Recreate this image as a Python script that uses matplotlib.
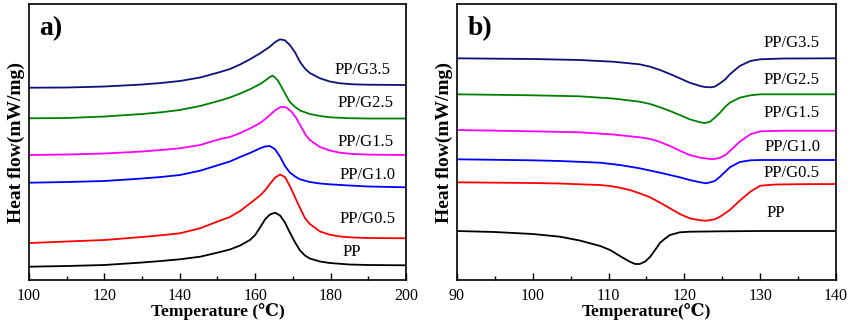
import numpy as np
import matplotlib
matplotlib.use("Agg")
from matplotlib import pyplot as plt
from matplotlib.ticker import MultipleLocator

plt.rcParams['font.family'] = ['Liberation Serif', 'DejaVu Serif']

# curve readings: heat flow in arbitrary units, measured downward from the top of the frame
# (the original has no y scale, so each trace keeps its vertical offset)
labels = ['PP', 'PP/G0.5', 'PP/G1.0', 'PP/G1.5', 'PP/G2.5', 'PP/G3.5']
colors = ['#000000', '#ff0000', '#0000ff', '#ff00ff', '#008000', '#10107a']

# --- a) melting ---
t_pp_a = [100, 110, 120, 130, 135, 140, 145.4, 150.7, 153.3, 156, 158.6, 160, 161.3, 162.6, 163.9, 165.3,
          166.6, 167.9, 169.2, 170.6, 171.9, 173.2, 174.5, 177.2, 179.8, 185, 190, 200]
y_pp_a = [266.7, 266, 265, 262.5, 261, 259.3, 256.7, 252, 249.5, 245.5, 240, 235, 227.5, 219.5, 214.5, 212.7,
          215.5, 222.5, 232.5, 242.5, 250.5, 255.5, 258.5, 261.5, 263, 264.5, 265, 265.3]

t_g05_a = [100, 110, 120, 130, 135, 140, 145.4, 150.7, 153.3, 156, 158.6, 161.3, 162.6, 163.9, 165.3, 166.6,
           167.9, 169.2, 170.6, 171.9, 173.2, 174.5, 177.2, 179.8, 182.5, 186, 190, 200]
y_g05_a = [243, 241.5, 240, 237, 235.3, 233.3, 228.3, 220.5, 217, 211, 203.5, 195.5, 190.5, 184, 177.5, 174.5,
           177, 186, 197.5, 208, 218, 224, 231.5, 234.7, 236.5, 237.5, 238, 238.3]

t_g10_a = [100, 110, 120, 130, 135, 140, 145.4, 150.7, 153.3, 156, 158.6, 161.3, 162.6, 163.9, 165.3, 166.6,
           167.9, 169.2, 170.6, 171.9, 174.5, 177.2, 179.8, 185, 190, 200]
y_g10_a = [182.7, 182, 181, 178.5, 177, 175, 170.7, 164.5, 161.5, 157, 153, 148.3, 146.5, 146, 149.3, 156.7,
           166, 172.5, 176.5, 179.3, 182, 183.5, 184.3, 185.5, 186.5, 187.3]

t_g15_a = [100, 110, 120, 130, 135, 140, 145.4, 150.7, 153.3, 156, 158.6, 161.3, 162.6, 163.9, 165.3, 166.6,
           167.3, 168.4, 169.6, 170.9, 172.2, 173.5, 174.5, 176, 177.2, 179.8, 182.5, 186, 190, 200]
y_g15_a = [155, 154.5, 153.5, 151.5, 150, 148.3, 145, 139, 137, 133, 128.5, 123, 119.3, 115, 110.3, 107.3,
           106.7, 107.8, 111.5, 118, 127, 135.5, 140, 144, 147, 150.5, 152.7, 154, 154.6, 155]

t_g25_a = [100, 110, 120, 130, 135, 140, 145.4, 150.7, 153.3, 156, 158.6, 161.3, 162.6, 163.9, 164.6, 165.3,
           166.1, 167, 167.9, 168.6, 169.2, 170.6, 171.9, 174.5, 177.2, 179.8, 185, 190, 200]
y_g25_a = [118.3, 118, 116.5, 114, 112.3, 110, 106, 100.5, 97.5, 93.5, 89.3, 84, 80.7, 77, 75.7, 77.5,
           81, 87, 93.3, 98, 102, 107, 110.5, 114, 116, 117.3, 118.2, 118.5, 118.5]

t_g35_a = [100, 110, 120, 130, 135, 140, 145.4, 150.7, 153.3, 156, 158.6, 161.3, 162.6, 163.9, 165.3, 166.6,
           167.9, 169.2, 170.6, 171.9, 173.2, 174.5, 177.2, 179.8, 182.5, 186, 190, 200]
y_g35_a = [87.7, 87.5, 86.5, 84.5, 83, 81, 77.5, 72, 69, 64.5, 59.3, 53.3, 50, 46.7, 42, 39.3,
           40.3, 45, 52.5, 62, 68.5, 73, 78.3, 81.5, 83.3, 84.3, 84.7, 85]

# --- b) crystallization ---
t_pp_b = [90, 95, 100, 103.6, 106.2, 108.9, 110.2, 111.5, 112.8, 113.5, 114.1, 114.8, 115.5, 116.2, 116.8,
          117.5, 118.1, 119.4, 120.7, 125, 130, 140]
y_pp_b = [231, 232, 234, 236.7, 240.5, 246, 250, 256, 261.7, 264, 264, 261.7, 256.7, 249.3, 242.7,
          238.3, 235, 232.3, 231.7, 231.3, 231, 231]

t_g05_b = [90, 100, 103.6, 106.2, 108.9, 110.2, 111.5, 112.8, 114.1, 115.5, 116.8, 118.1, 119.4, 120.7, 122.1,
           122.9, 124, 124.7, 126, 127.3, 128.7, 130, 132, 135, 140]
y_g05_b = [182.3, 183, 183.5, 184.3, 185, 186, 187.7, 190, 193.3, 197.3, 202.7, 208.3, 214, 218.3, 220.3,
           220.7, 219.3, 216.7, 210, 200.7, 191.7, 185.7, 184.5, 184.2, 184]

t_g10_b = [90, 100, 103.6, 108.9, 111.5, 114.1, 116.8, 119.4, 120.7, 122.1, 122.9, 124, 124.7, 126, 127.3,
           128.7, 130, 140]
y_g10_b = [159.3, 160.3, 161, 162.7, 165, 168.3, 172.7, 177.3, 180, 182.3, 183.3, 181, 176.7, 167.3, 162,
           160.3, 160, 160]

t_g15_b = [90, 100, 106.2, 110.6, 114.1, 115.5, 116.8, 118.1, 119.4, 120.7, 122.1, 123.4, 124, 124.7, 125.4,
           126, 127.3, 128.7, 130, 133, 140]
y_g15_b = [130, 131.3, 132.3, 134.5, 137.3, 139, 142, 146, 150.7, 155, 157.7, 159, 159, 157.7, 155,
           151, 141.7, 134.3, 131.3, 130.7, 130.7]

t_g25_b = [90, 100, 106.2, 110.6, 114.1, 115.5, 116.8, 118.1, 119.4, 120.7, 122.1, 122.7, 123.4, 124, 124.7,
           125.4, 126, 127.3, 128.7, 130, 140]
y_g25_b = [94.3, 95.3, 96.3, 98.5, 101.7, 104, 107.3, 111, 115, 119.3, 122.3, 123, 121.7, 117.7, 112.7,
           106.7, 102.7, 97.7, 95.3, 94.3, 94.3]

t_g35_b = [90, 100, 106.2, 110.6, 114.1, 115.5, 116.8, 118.1, 119.4, 120.7, 122.1, 122.7, 123.4, 124, 124.7,
           125.4, 126, 127.3, 128.7, 130, 133, 140]
y_g35_b = [58.3, 59, 60, 61.7, 64.3, 66.7, 70, 74, 78.3, 82.7, 86, 87, 87.3, 86.7, 83.3,
           79.3, 74.3, 66, 61, 59.3, 58.5, 58.3]

series_a = [(t_pp_a, y_pp_a), (t_g05_a, y_g05_a), (t_g10_a, y_g10_a),
            (t_g15_a, y_g15_a), (t_g25_a, y_g25_a), (t_g35_a, y_g35_a)]
series_b = [(t_pp_b, y_pp_b), (t_g05_b, y_g05_b), (t_g10_b, y_g10_b),
            (t_g15_b, y_g15_b), (t_g25_b, y_g25_b), (t_g35_b, y_g35_b)]

# label positions (T, reading)
label_pos_a = [(185.7, 252), (189.8, 219), (189.7, 175), (189.3, 142), (189.3, 103), (188.6, 70)]
label_pos_b = [(132.0, 213), (134.2, 173), (134.3, 147), (134.2, 113), (134.2, 80), (134.2, 43)]

TOP = 280.0


def flow(v):
    return TOP - np.asarray(v, dtype=float)


fig = plt.figure(figsize=(8.5, 3.21), dpi=100)
ax1 = fig.add_axes([0.0341, 0.1277, 0.4435, 0.8598])
ax2 = fig.add_axes([0.5376, 0.1277, 0.4459, 0.8598])


def setup(ax, xlim, major, minor, xlabel, letter, series, lpos):
    for (t, y), c in zip(series, colors):
        ax.plot(t, flow(y), '-', c=c, lw=1.3, solid_joinstyle='round')
    for (tx, ty), lab in zip(lpos, labels):
        ax.text(tx, flow(ty), lab, fontsize=12, ha='center', va='center')
    ax.set_xlim(*xlim)
    ax.set_ylim(0, TOP - 4)
    ax.xaxis.set_major_locator(MultipleLocator(major))
    ax.xaxis.set_minor_locator(MultipleLocator(minor))
    ax.tick_params(axis='x', which='major', direction='in', length=5, width=1, labelsize=11.5, pad=6)
    ax.tick_params(axis='x', which='minor', direction='in', length=3, width=1)
    ax.set_yticks([])
    for s in ax.spines.values():
        s.set_linewidth(1.2)
    ax.set_xlabel(xlabel, fontsize=12.5, fontweight='bold', labelpad=-1)
    ax.set_ylabel('Heat flow(mW/mg)', fontsize=14, fontweight='bold', labelpad=3)
    ax.text(0.028, 0.91, letter, transform=ax.transAxes, fontsize=20, fontweight='bold',
            ha='left', va='center')


setup(ax1, (100, 200), 20, 10, 'Temperature (\u2103)', 'a)', series_a, label_pos_a)
setup(ax2, (90, 140), 10, 5, 'Temperature(\u2103)', 'b)', series_b, label_pos_b)

fig.savefig('out.png', dpi=100)
